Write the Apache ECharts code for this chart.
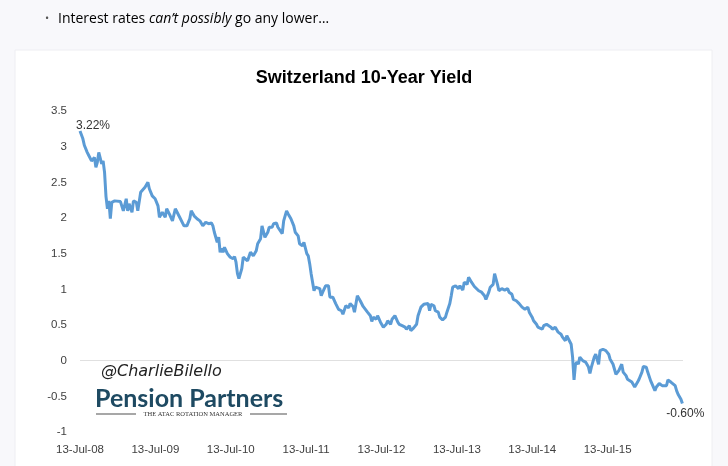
<!DOCTYPE html>
<html>
<head>
<meta charset="utf-8">
<script src="https://cdn.jsdelivr.net/npm/echarts@6/dist/echarts.min.js"></script>
<style>
html,body{margin:0;padding:0;background:#f8f8fb;}
#chart{width:728px;height:466px;}
</style>
</head>
<body>
<div id="chart"></div>
<script>
// Weekly observations: week index counted from 13-Jul-2008
const weeks = [0,2,3,5,6,8,10,11,12,13,15,16,17,18,19,20,21,22,24,28,29,30,32,33,34,36,37,39,40,42,43,45,47,48,50,52,54,55,57,59,60,62,64,66,67,69,70,72,74,76,77,79,81,83,84,85,87,89,91,92,93,95,96,97,98,99,100,102,104,106,107,108,109,110,111,112,113,114,116,118,119,120,122,123,125,126,128,130,131,133,134,136,137,140,141,143,144,146,148,149,151,152,154,155,157,158,159,160,161,162,163,164,166,167,168,170,172,173,175,177,179,181,182,184,186,187,189,190,192,194,196,197,199,201,202,203,205,206,208,210,212,213,215,216,218,220,221,223,225,226,228,229,231,232,233,234,236,238,239,241,242,243,245,246,248,249,251,253,254,256,257,258,260,262,263,265,266,268,269,271,273,274,276,278,280,281,283,284,286,287,289,290,292,293,294,296,297,299,300,302,304,306,307,308,310,311,313,314,316,317,318,320,321,323,324,326,327,329,331,333,334,336,337,338,340,341,342,343,344,345,346,348,350,352,353,354,356,357,358,359,360,362,364,366,367,369,371,373,375,376,378,379,380,382,384,386,387,389,390,392,393,395,396,398,399,401,403,404,406,407,409,410,412,413,414,415,416,417];
// Switzerland 10-year government bond yield, %
const yields = [3.22,3.11,3.02,2.92,2.88,2.80,2.85,2.71,2.78,2.92,2.76,2.80,2.64,2.30,2.13,2.24,1.99,2.22,2.24,2.23,2.22,2.10,2.27,2.10,2.20,2.08,2.24,2.22,2.10,2.36,2.34,2.43,2.50,2.41,2.31,2.27,2.17,2.01,2.08,2.01,2.13,2.05,1.96,2.13,2.15,2.01,1.99,1.89,1.89,1.99,2.10,2.03,1.99,1.96,1.96,1.89,1.94,1.92,1.93,1.89,1.80,1.66,1.73,1.52,1.57,1.52,1.59,1.50,1.45,1.43,1.46,1.38,1.22,1.15,1.17,1.29,1.45,1.43,1.40,1.52,1.54,1.47,1.54,1.64,1.71,1.89,1.73,1.80,1.87,1.87,1.92,1.93,1.87,1.78,1.96,2.10,2.06,1.99,1.89,1.80,1.75,1.64,1.61,1.66,1.50,1.47,1.36,1.22,1.20,0.98,1.03,1.04,1.01,0.91,0.96,1.05,1.05,0.89,0.89,0.80,0.72,0.70,0.65,0.77,0.74,0.80,0.76,0.68,0.91,0.84,0.76,0.75,0.68,0.63,0.55,0.61,0.58,0.63,0.54,0.47,0.51,0.56,0.51,0.58,0.63,0.54,0.51,0.49,0.47,0.44,0.49,0.42,0.46,0.44,0.51,0.63,0.75,0.79,0.77,0.80,0.70,0.79,0.77,0.70,0.68,0.61,0.57,0.61,0.68,0.80,0.91,1.03,1.05,1.01,1.05,0.99,1.10,1.07,1.17,1.10,1.04,1.04,0.98,0.96,0.91,0.86,0.96,1.03,1.07,1.22,1.07,0.98,1.01,1.03,0.99,1.01,0.96,0.93,0.86,0.84,0.80,0.75,0.77,0.72,0.75,0.68,0.61,0.56,0.51,0.47,0.46,0.44,0.49,0.51,0.49,0.47,0.44,0.47,0.40,0.37,0.33,0.28,0.35,0.36,0.23,0.05,-0.27,-0.05,-0.02,-0.05,0.05,0.00,-0.02,-0.09,-0.18,-0.09,0.05,0.09,0.02,-0.05,0.14,0.16,0.14,0.09,0.02,-0.05,-0.19,-0.14,-0.05,-0.16,-0.21,-0.26,-0.24,-0.30,-0.37,-0.30,-0.26,-0.16,-0.08,-0.09,-0.16,-0.28,-0.29,-0.42,-0.37,-0.32,-0.35,-0.33,-0.35,-0.27,-0.30,-0.32,-0.35,-0.42,-0.47,-0.45,-0.54,-0.60];
const xLabels = ['13-Jul-08','13-Jul-09','13-Jul-10','13-Jul-11','13-Jul-12','13-Jul-13','13-Jul-14','13-Jul-15'];
const yMin = -1, yMax = 3.5, yStep = 0.5;
const title = 'Switzerland 10-Year Yield';

const WEEKS_PER_YEAR = 365.25 / 7;
const data = weeks.map((w, i) => [w / WEEKS_PER_YEAR, yields[i]]);
const labelFont = {fontFamily: 'Liberation Sans', fontSize: 12, color: '#333333', opacity: 1, textBorderWidth: 0};
const last = data.length - 1;
const endPoints = [
  {value: data[0], label: Object.assign({show: true, position: 'top', distance: 0, offset: [13, 1]}, labelFont)},
  {value: data[last], label: Object.assign({show: true, position: 'bottom', distance: 0, offset: [3, 4]}, labelFont)}
];

const chart = echarts.init(document.getElementById('chart'), null, {renderer: 'canvas'});
chart.setOption({
  backgroundColor: '#f8f8fb',
  animation: false,
  graphic: [
    {type: 'rect', shape: {x: 15, y: 50, width: 697, height: 430}, style: {fill: '#ffffff', stroke: '#eeeef2', lineWidth: 1}, z: -10},
    {type: 'text', x: 45, y: 19, style: {text: '•', font: '11px "Open Sans"', fill: '#555', textVerticalAlign: 'middle'}},
    {type: 'text', x: 58, y: 19, style: {
      text: '{n|Interest rates }{i|can’t possibly}{n| go any lower…}',
      textVerticalAlign: 'middle',
      rich: {
        n: {fontFamily: 'Open Sans', fontSize: 14, color: '#4f4f4f'},
        i: {fontFamily: 'Open Sans', fontSize: 14, fontStyle: 'italic', color: '#4f4f4f'}
      }
    }},
    {type: 'text', x: 101, y: 372, style: {text: '@CharlieBilello', font: 'italic 16px "DejaVu Sans"', fill: '#222', textVerticalAlign: 'middle'}, z: 10},
    {type: 'text', x: 95, y: 399, style: {text: 'Pension Partners', font: 'bold 25px Lato', fill: '#1e4a62', textVerticalAlign: 'middle'}, z: 10},
    {type: 'line', shape: {x1: 96, y1: 414, x2: 136, y2: 414}, style: {stroke: '#8a8a8a', lineWidth: 1.5}, z: 10},
    {type: 'line', shape: {x1: 250, y1: 414, x2: 287, y2: 414}, style: {stroke: '#8a8a8a', lineWidth: 1.5}, z: 10},
    {type: 'text', x: 193, y: 414, style: {text: 'THE ATAC ROTATION MANAGER', font: '6.5px "Liberation Serif"', fill: '#333', textAlign: 'center', textVerticalAlign: 'middle'}, z: 10}
  ],
  title: {
    text: title, left: 'center', top: 64,
    textStyle: {fontFamily: 'Liberation Sans', fontWeight: 'bold', fontSize: 18, color: '#000'}
  },
  grid: {left: 80, right: 45, top: 111, bottom: 34, containLabel: false},
  xAxis: {
    type: 'value', min: 0, max: xLabels.length, interval: 1,
    axisLine: {show: false}, axisTick: {show: false}, splitLine: {show: false},
    axisLabel: {margin: 12, fontFamily: 'Liberation Sans', fontSize: 11.5, color: '#404040',
      formatter: v => xLabels[Math.round(v)] || ''}
  },
  yAxis: {
    type: 'value', min: yMin, max: yMax, interval: yStep,
    axisLine: {show: false}, axisTick: {show: false}, splitLine: {show: false},
    axisLabel: {margin: 13, fontFamily: 'Liberation Sans', fontSize: 11.5, color: '#404040'}
  },
  series: [{
    type: 'line', data: data, showSymbol: false, symbol: 'none',
    lineStyle: {color: '#5b9bd5', width: 3}, itemStyle: {color: '#5b9bd5'},
    z: 5,
    markLine: {silent: true, symbol: 'none', label: {show: false},
      lineStyle: {color: '#e0e0e0', type: 'solid', width: 1},
      data: [{yAxis: 0}], z: 1}
  }, {
    type: 'scatter', data: endPoints, symbolSize: 1, itemStyle: {color: '#5b9bd5', opacity: 0},
    silent: true, z: 6,
    label: {formatter: p => p.value[1].toFixed(2) + '%'}
  }]
});
</script>
</body>
</html>
